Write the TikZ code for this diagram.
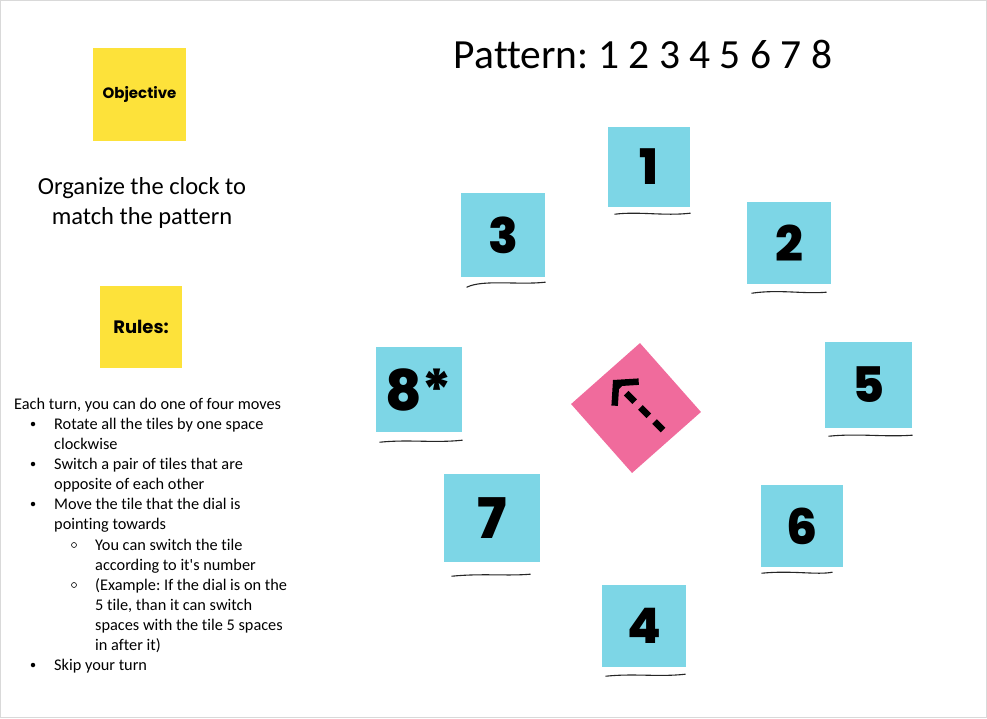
\documentclass[tikz,border=0pt]{standalone}
\usepackage{fontspec}
\setmainfont{Carlito}[Ligatures={TeXOff,NoCommon}]
\newfontfamily\poppins{Poppins}
\newfontfamily\poppinsxb{Poppins ExtraBold}
\usetikzlibrary{arrows.meta,calc}
\definecolor{tilecyan}{HTML}{7DD6E6}
\definecolor{notey}{HTML}{FDE23A}
\definecolor{dialpink}{HTML}{F06B9C}
\tikzset{
  tile/.style={fill=tilecyan, inner sep=0, font=\poppinsxb\fontsize{49}{49}\selectfont},
  bigtile/.style={tile, font=\poppinsxb\fontsize{56}{56}\selectfont},
  note/.style={fill=notey, inner sep=0, minimum width=93, minimum height=93, font=\poppins\bfseries\fontsize{15}{15}\selectfont},
  uline/.style={line width=1.1pt, line cap=round, black!85},
  ln/.style={anchor=base west, inner sep=0, font=\fontsize{16.3}{16.3}\selectfont},
  bul/.style={circle, fill=black, inner sep=0, minimum size=4.5},
  sbul/.style={circle, draw=black, line width=0.6pt, inner sep=0, minimum size=5},
}
\frenchspacing
\begin{document}
\begin{tikzpicture}[x=1pt,y=-1pt]
\useasboundingbox (0,0) rectangle (987,718);
\fill[white] (0,0) rectangle (987,718);
\draw[black!15] (0.5,0.5) rectangle (986.5,717.5);

% title
\node[font=\fontsize{41.5}{41.5}\selectfont, inner sep=0] (title) at (643,54) {Pattern: 1 2 3 4 5 6 7 8};

% left side
\node[note] (obj) at (139.5,94.5) {Objective};
\node[align=center, font=\fontsize{24.5}{30}\selectfont, inner sep=0] (org) at (142,203) {Organize the clock to\\match the pattern};
\node[note, minimum width=82, minimum height=82, font=\poppins\bfseries\fontsize{18}{18}\selectfont] (rules) at (141,327) {Rules:};

\node[ln] (l1) at (14,409) {Each turn, you can do one of four moves};
\node[bul] (b1) at (33,424) {};
\node[ln] (l2) at (54,429) {Rotate all the tiles by one space};
\node[ln] (l3) at (54,449) {clockwise};
\node[bul] (b2) at (33,464) {};
\node[ln] (l4) at (54,469) {Switch a pair of tiles that are};
\node[ln] (l5) at (54,489) {opposite of each other};
\node[bul] (b3) at (33,504) {};
\node[ln] (l6) at (54,509) {Move the tile that the dial is};
\node[ln] (l7) at (54,529) {pointing towards};
\node[sbul] (s1) at (74,545) {};
\node[ln] (l8) at (95,550) {You can switch the tile};
\node[ln] (l9) at (95,570) {according to it's number};
\node[sbul] (s2) at (74,585) {};
\node[ln] (l10) at (95,590) {(Example: If the dial is on the};
\node[ln] (l11) at (95,610) {5 tile, than it can switch};
\node[ln] (l12) at (95,630) {spaces with the tile 5 spaces};
\node[ln] (l13) at (95,650) {in after it)};
\node[bul] (b4) at (33,665) {};
\node[ln] (l14) at (54,670) {Skip your turn};

% tiles
\node[tile, minimum width=82, minimum height=80] (t1) at (649,167) {1};
\node[tile, minimum width=84, minimum height=82] (t2) at (789,243) {2};
\node[tile, minimum width=84, minimum height=84] (t3) at (503,235) {3};
\node[tile, minimum width=87, minimum height=86] (t5) at (868.5,385) {5};
\node[bigtile, minimum width=86, minimum height=85] (t8) at (419,389.5) {8*};
\node[bigtile, minimum width=96, minimum height=88] (t7) at (492,518) {7};
\node[tile, minimum width=82, minimum height=82] (t6) at (802,526) {6};
\node[tile, minimum width=84, minimum height=82] (t4) at (644,626) {4};

% underlines
\draw[uline] ($(t1.south west)+(7,7)$) .. controls ($(t1.south)+(-10,4)$) and ($(t1.south)+(15,9)$) .. ($(t1.south east)+(0,6)$);
\draw[uline] ($(t2.south west)+(5,9)$) .. controls ($(t2.south)+(-10,5)$) and ($(t2.south)+(15,10)$) .. ($(t2.south east)+(-5,8)$);
\draw[uline] ($(t3.south west)+(6,10)$) .. controls ($(t3.south)+(-20,2)$) and ($(t3.south)+(15,8)$) .. ($(t3.south east)+(0,5)$);
\draw[uline] ($(t5.south west)+(4,8)$) .. controls ($(t5.south)+(-10,5)$) and ($(t5.south)+(15,9)$) .. ($(t5.south east)+(0,7)$);
\draw[uline] ($(t8.south west)+(4,10)$) .. controls ($(t8.south)+(-10,7)$) and ($(t8.south)+(15,11)$) .. ($(t8.south east)+(0,8)$);
\draw[uline] ($(t7.south west)+(8,14)$) .. controls ($(t7.south)+(-10,11)$) and ($(t7.south)+(15,14)$) .. ($(t7.south east)+(-10,12)$);
\draw[uline] ($(t6.south west)+(1,6)$) .. controls ($(t6.south)+(-10,3)$) and ($(t6.south)+(15,8)$) .. ($(t6.south east)+(-11,5)$);
\draw[uline] ($(t4.south west)+(4,9)$) .. controls ($(t4.south)+(-10,6)$) and ($(t4.south)+(15,10)$) .. ($(t4.south east)+(-1,7)$);

% dial
\node[fill=dialpink, inner sep=0, minimum size=92, rotate=41.5] (dial) at (636,408) {};
\coordinate (atail) at ($(dial.center)+(27,22)$);
\coordinate (ahead) at ($(dial.center)+(-23,-28)$);
\draw[line width=6.5pt, dash pattern=on 12 off 8, -{Straight Barb[length=15pt, width=34pt]}] (atail) -- (ahead);
\end{tikzpicture}
\end{document}
